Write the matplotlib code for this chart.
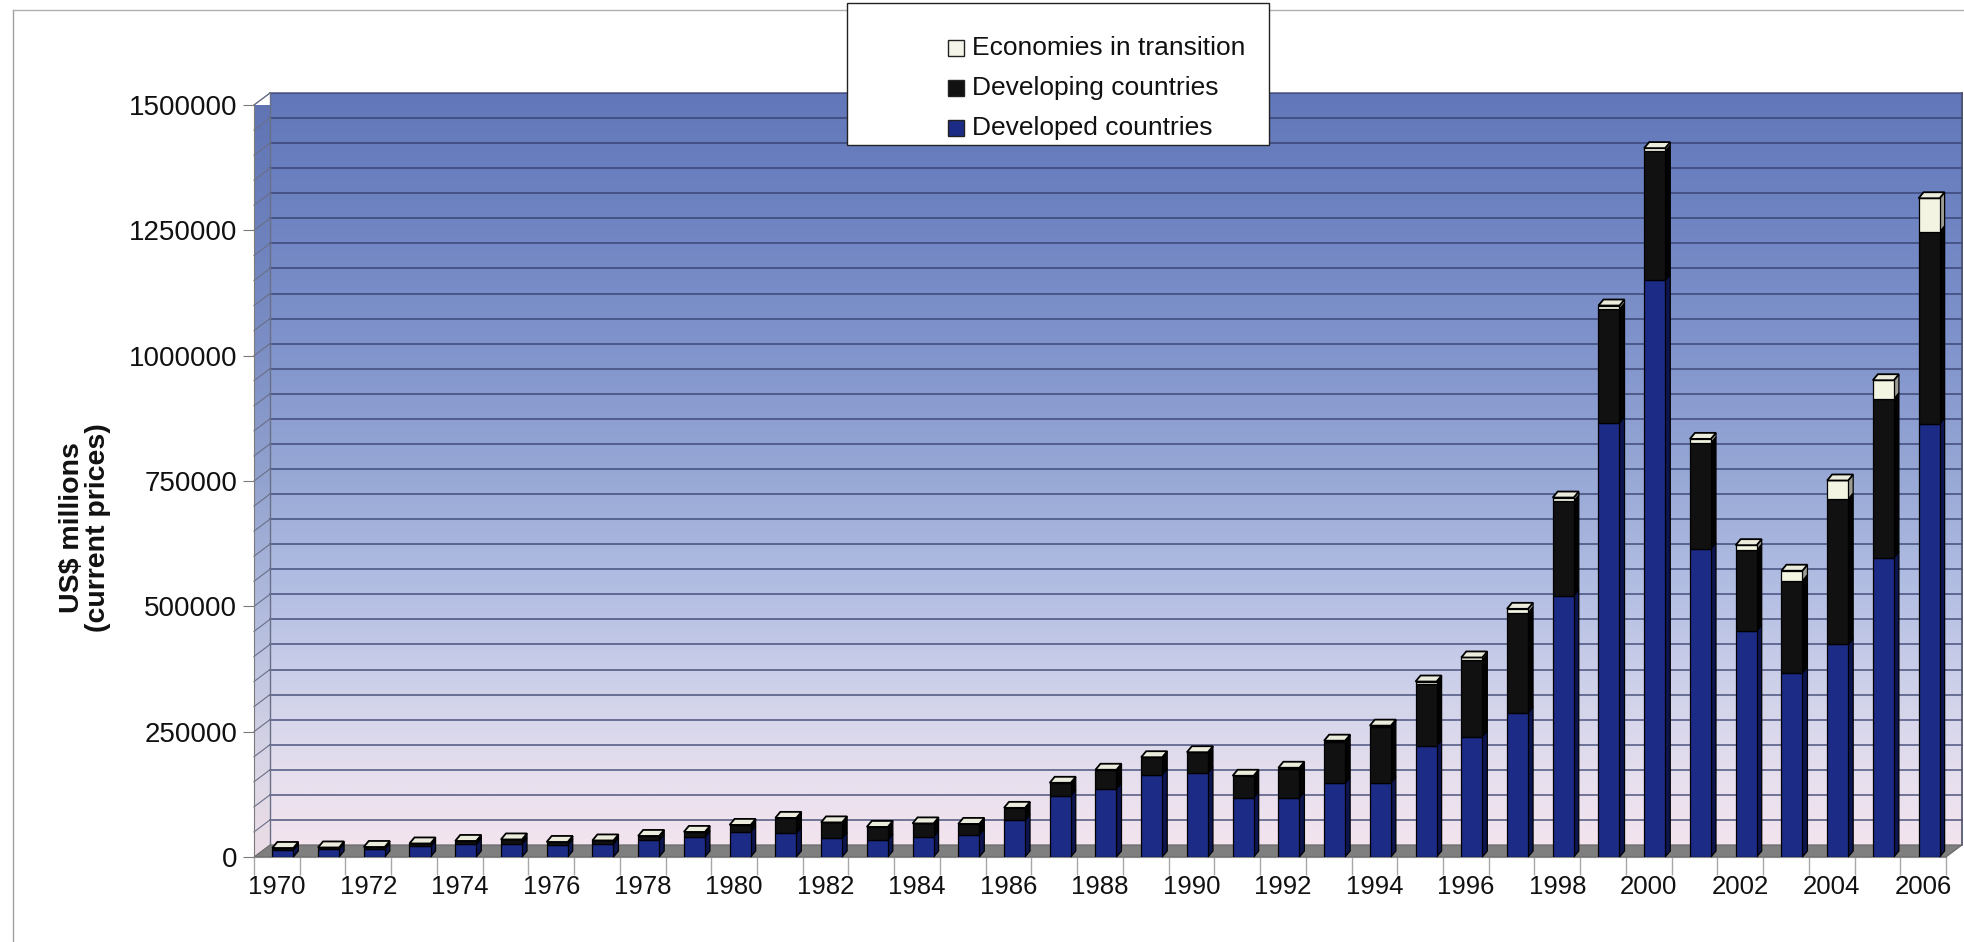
import numpy as np
import matplotlib
matplotlib.use("Agg")
import matplotlib.pyplot as plt
from matplotlib.patches import Polygon, Rectangle
from matplotlib.lines import Line2D
from matplotlib import font_manager

# FDI inflows by group of economies, US$ millions (current prices)
years = list(range(1970, 2007))
developed = [14000, 15000, 15000, 21000, 25000, 26000, 24000, 26000, 33000, 40000,
             50000, 47000, 37000, 34000, 40000, 44000, 73000, 122000, 136000, 164000,
             168000, 118000, 118000, 147000, 148000, 221000, 240000, 288000, 521000, 866000,
             1150000, 615000, 451000, 367000, 424000, 597000, 864000]
developing = [4000, 4000, 5000, 6000, 7000, 9000, 6000, 7000, 9000, 10000,
              14000, 31000, 32000, 26000, 27000, 22000, 25000, 26000, 38000, 35000,
              41000, 44000, 58000, 83000, 111000, 125000, 153000, 199000, 189000, 227000,
              258000, 211000, 161000, 184000, 290000, 317000, 383000]
transition = [0, 0, 0, 0, 0, 0, 0, 0, 0, 0,
              0, 0, 0, 0, 0, 0, 0, 0, 0, 0,
              0, 0, 2000, 2000, 3000, 4000, 5000, 8000, 7000, 7000,
              6000, 8000, 10000, 20000, 37000, 37000, 67000]
series_names = ["Economies in transition", "Developing countries", "Developed countries"]

W, H = 1964, 942
plt.rcParams['font.family'] = ['Liberation Sans', 'DejaVu Sans']
fig = plt.figure(figsize=(W / 100, H / 100), dpi=100)
fig.patch.set_facecolor('white')

# front plane of the 3-D box
ax = fig.add_axes([254 / W, 85 / H, 1692 / W, 752 / H])
n = len(years)
ymax = 1500000
x = np.arange(n)
ax.patch.set_alpha(0)

# depth of the walls and of the columns, in data units
dxb, dyb = 0.35, 24000
bx, bw = 0.13, 0.46
ddx, ddy = 0.11, 12000

# gradient for the back and side wall
stops_v = [0, 120000, 300000, 500000, 750000, 1000000, 1250000, 1500000]
stops_c = np.array([(243, 228, 238), (232, 224, 238), (208, 210, 234), (180, 191, 227),
                    (150, 167, 213), (128, 147, 203), (111, 132, 194), (98, 119, 185)]) / 255
vv = np.linspace(0, ymax, 400)
grad = np.stack([np.interp(vv, stops_v, stops_c[:, k]) for k in range(3)], axis=-1)[:, None, :]

back = ax.imshow(grad, origin='lower', aspect='auto', interpolation='bilinear',
                 extent=(-0.5 + dxb, n - 0.5 + dxb, dyb, ymax + dyb), zorder=0)
back.set_clip_on(False)
side_wall = Polygon([(-0.5, 0), (-0.5 + dxb, dyb), (-0.5 + dxb, ymax + dyb), (-0.5, ymax)],
                    closed=True, facecolor='none', edgecolor='none')
ax.add_patch(side_wall)
left = ax.imshow(grad * 0.97, origin='lower', aspect='auto', interpolation='bilinear',
                 extent=(-0.5, -0.5 + dxb, 0, ymax + dyb), zorder=0)
left.set_clip_path(side_wall)
ax.set_xlim(-0.5, n - 0.5)
ax.set_ylim(0, ymax)

# wall gridlines every 50000
for v in range(50000, ymax + 1, 50000):
    ax.plot([-0.5 + dxb, n - 0.5 + dxb], [v + dyb] * 2, color='#303a68', lw=1.15,
            alpha=0.8, zorder=1, clip_on=False)
    ax.plot([-0.5, -0.5 + dxb], [v, v + dyb], color='#6a6f88', lw=0.8, zorder=1, clip_on=False)
ax.plot([-0.5 + dxb] * 2, [dyb, ymax + dyb], color='#6a6f88', lw=1, zorder=1, clip_on=False)
ax.plot([n - 0.5 + dxb] * 2, [dyb, ymax + dyb], color='#4a4f68', lw=1.2, zorder=1, clip_on=False)
ax.plot([-0.5, -0.5 + dxb], [ymax, ymax + dyb], color='#6a6f88', lw=0.8, zorder=1, clip_on=False)

# floor
ax.add_patch(Polygon([(-0.5, 0), (n - 0.5, 0), (n - 0.5 + dxb, dyb), (-0.5 + dxb, dyb)],
                     closed=True, facecolor='#7f7f7f', edgecolor='#666666', lw=0.8,
                     zorder=1.5, clip_on=False))

dev = np.array(developed, float)
dvg = np.array(developing, float)
trn = np.array(transition, float)
bottoms = [np.zeros(n), dev, dev + dvg]
heights = [dev, dvg, trn]
fronts = ['#1c2b86', '#111111', '#f4f4e2']
sides = ['#0d1550', '#030303', '#9c9c94']

xc = x + bx
for b, h, fc, sc in zip(bottoms, heights, fronts, sides):
    ax.bar(xc, h, bottom=b, width=bw, color=fc, edgecolor='black', lw=0.9, zorder=3)
    for xi, b0, hi in zip(xc, b, h):
        x1 = xi + bw / 2
        ax.add_patch(Polygon([(x1, b0), (x1 + ddx, b0 + ddy), (x1 + ddx, b0 + hi + ddy), (x1, b0 + hi)],
                             closed=True, facecolor=sc, edgecolor='black', lw=0.9, zorder=2.9,
                             clip_on=False))

# top faces of the columns
tops = dev + dvg + trn
for xi, t in zip(xc, tops):
    x0, x1 = xi - bw / 2, xi + bw / 2
    ax.add_patch(Polygon([(x0, t), (x1, t), (x1 + ddx, t + ddy), (x0 + ddx, t + ddy)],
                         closed=True, facecolor='#ececdc', edgecolor='black', lw=1.3,
                         zorder=3.1, clip_on=False))

# axes
for s in ['top', 'right']:
    ax.spines[s].set_visible(False)
ax.spines['left'].set_color('#7a7a7a')
ax.spines['bottom'].set_color('#8a8a8a')
ax.spines['left'].set_zorder(1.6)

yt = list(range(0, ymax + 1, 250000))
ax.set_yticks(yt)
ax.set_yticklabels([str(v) for v in yt])
ax.tick_params(axis='y', length=8, color='#7a7a7a', labelsize=20, pad=4, labelcolor='#111111')

ax.set_xticks(np.arange(-0.5, n, 1.0))
ax.set_xticklabels([])
ax.tick_params(axis='x', which='major', length=13, color='#a8a8a8', width=1)
ax.set_xticks(x[::2], minor=True)
ax.set_xticklabels([str(y) for y in years[::2]], minor=True)
ax.tick_params(axis='x', which='minor', length=0, labelsize=18.5, pad=13, labelcolor='#111111')

# axis title in a condensed bold face when one is installed
names = {f.name for f in font_manager.fontManager.ttflist}
if 'Liberation Sans Narrow' in names:
    yfam, ysize = ['Liberation Sans Narrow'], 25
else:
    yfam, ysize = ['Liberation Sans'], 20.5
fig.text(85 / W, 1 - 528 / H, "US$ millions\n(current prices)", rotation=90, ha='center',
         va='center', fontsize=ysize, fontweight='bold', family=yfam, linespacing=1.0,
         color='#111111')

# frame lines of the chart area
fig.add_artist(Line2D([13 / W, 13 / W], [0, 1 - 10 / H], color='#a0a0a0', lw=1))
fig.add_artist(Line2D([13 / W, 1], [1 - 10 / H, 1 - 10 / H], color='#b0b0b0', lw=1))

# legend box
lx0, lx1, ly0, ly1 = 847, 1269, 3, 145
fig.add_artist(Rectangle((lx0 / W, 1 - ly1 / H), (lx1 - lx0) / W, (ly1 - ly0) / H,
                         transform=fig.transFigure, facecolor='white', edgecolor='#222222',
                         lw=1, zorder=5))
leg_fc = ['#f4f4e8', '#111111', '#1c2b86']
for k, (name, fc) in enumerate(zip(series_names, leg_fc)):
    cy = 48 + 40 * k
    fig.add_artist(Rectangle((948 / W, 1 - (cy + 8) / H), 16 / W, 16 / H,
                             transform=fig.transFigure, facecolor=fc, edgecolor='#222222',
                             lw=1, zorder=6))
    fig.text(972 / W, 1 - cy / H, name, ha='left', va='center', fontsize=19,
             color='#111111', zorder=6)

fig.savefig('out.png', dpi=100, facecolor='white')
